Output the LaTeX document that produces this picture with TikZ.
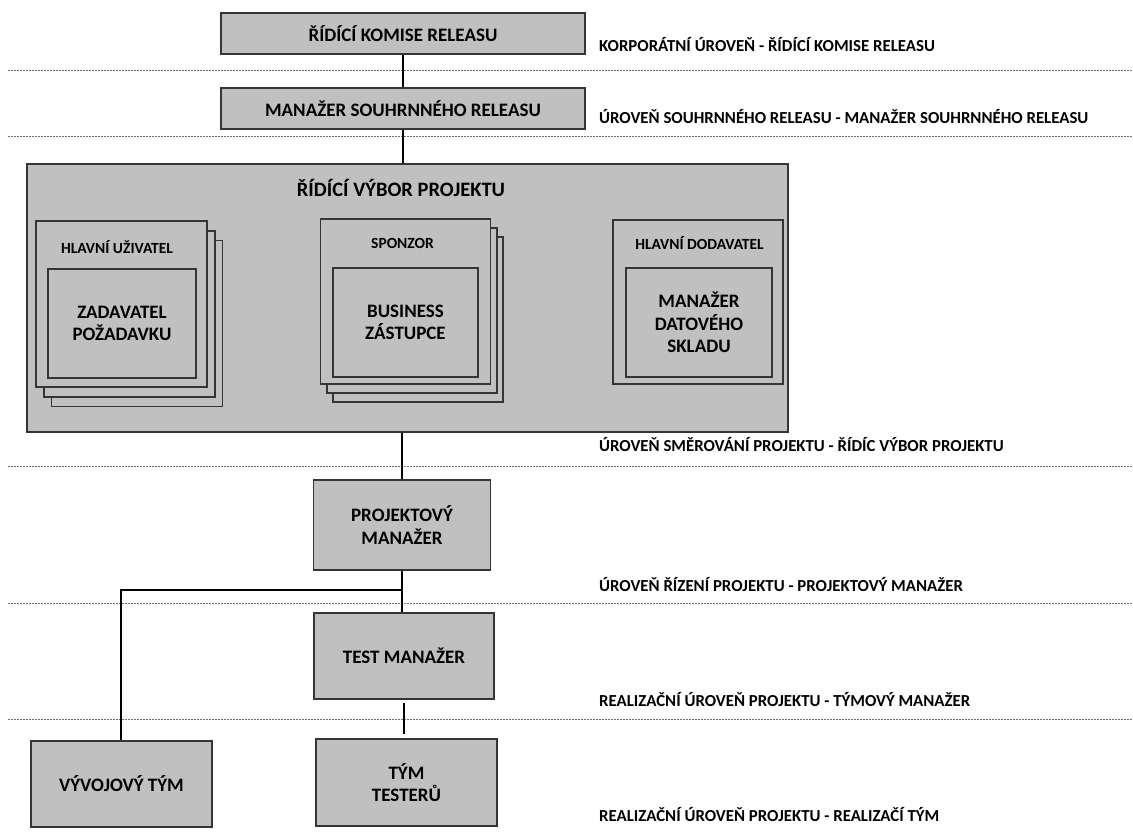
\documentclass[tikz,border=0pt]{standalone}
\usepackage{fontspec}
\setmainfont{Carlito}
\definecolor{boxfill}{HTML}{C0C0C0}
\definecolor{boxline}{HTML}{353535}
\definecolor{levelline}{HTML}{6E6E6E}
\newcommand{\boxfont}{\bfseries\fontsize{19}{22.5}\selectfont}
\newcommand{\titlefont}{\bfseries\fontsize{20.5}{24}\selectfont}
\newcommand{\rolefont}{\bfseries\fontsize{15.5}{18}\selectfont}
\newcommand{\levelfont}{\bfseries\fontsize{16.8}{20}\selectfont}
\begin{document}
\begin{tikzpicture}[x=1pt,y=-1pt,
  box/.style={draw=boxline, fill=boxfill, line width=1.4pt, rectangle,
    align=center, font=\boxfont, inner sep=0pt},
  rolebox/.style={draw=boxline, fill=boxfill, line width=1.2pt, rectangle,
    inner sep=0pt},
  rolelabel/.style={font=\rolefont, inner sep=0pt},
  levellabel/.style={font=\levelfont, anchor=west, inner sep=0pt},
  levelsep/.style={draw=levelline, line width=1pt, dash pattern=on 2pt off 1pt},
  link/.style={draw=black, line width=2pt}]

\useasboundingbox (0,0) rectangle (1133,834);

% level separators
\foreach \yy/\nm in {71/a,137/b,466/c,603/d,719/e}{
  \coordinate (sepL\nm) at (8,\yy);
  \coordinate (sepR\nm) at (1133,\yy);
  \draw[levelsep] (sepL\nm) -- (sepR\nm);
}

% release level
\node[box, minimum width=364, minimum height=41] (board) at (403,33.5) {ŘÍDÍCÍ KOMISE RELEASU};
\node[box, minimum width=364, minimum height=41] (relmgr) at (403,108.5) {MANAŽER SOUHRNNÉHO RELEASU};

% project board
\node[box, minimum width=761, minimum height=268] (steer) at (407.5,298) {};
\node[font=\titlefont, inner sep=0pt] (steertitle) at (401,188) {ŘÍDÍCÍ VÝBOR PROJEKTU};

% senior user (stacked)
\node[rolebox, minimum width=171, minimum height=166] (hu3) at (137,323.5) {};
\node[rolebox, minimum width=171, minimum height=166] (hu2) at (129.5,314) {};
\node[rolebox, minimum width=171, minimum height=166] (hu1) at (121.5,304) {};
\node[rolelabel] (hulabel) at (117,247) {HLAVNÍ UŽIVATEL};
\node[box, line width=1.2pt, minimum width=148, minimum height=109] (requester) at (122,323.5) {ZADAVATEL\\POŽADAVKU};

% sponsor (stacked)
\node[rolebox, minimum width=170, minimum height=165] (sp3) at (418,319.5) {};
\node[rolebox, minimum width=170, minimum height=165] (sp2) at (412,310.5) {};
\node[rolebox, minimum width=170, minimum height=165] (sp1) at (405.5,301.5) {};
\node[rolelabel] (splabel) at (402.5,243) {SPONZOR};
\node[box, line width=1.2pt, minimum width=145, minimum height=109] (business) at (405.5,322.5) {BUSINESS\\ZÁSTUPCE};

% senior supplier
\node[rolebox, minimum width=170, minimum height=164] (hd) at (698,302) {};
\node[rolelabel] (hdlabel) at (699.5,243) {HLAVNÍ DODAVATEL};
\node[box, line width=1.2pt, minimum width=146, minimum height=109] (dwh) at (699,322.5) {MANAŽER\\DATOVÉHO\\SKLADU};

% project management and delivery
\node[box, minimum width=177, minimum height=90] (pm) at (402,525) {PROJEKTOVÝ\\MANAŽER};
\node[box, minimum width=180, minimum height=86] (testmgr) at (404,656) {TEST MANAŽER};
\node[box, minimum width=181, minimum height=87] (testers) at (406.5,782.5) {TÝM\\TESTERŮ};
\node[box, minimum width=181, minimum height=86] (devteam) at (121.5,784) {VÝVOJOVÝ TÝM};

% connectors
\draw[link] (board.south) -- (relmgr.north);
\draw[link] (relmgr.south) -- (relmgr.south |- steer.north);
\draw[link] (pm.north |- steer.south) -- (pm.north);
\coordinate (fork) at (402,590);
\coordinate (devtop) at (121,590);
\draw[link] (pm.south) -- (fork) -- (fork |- testmgr.north);
\draw[link] (fork) -- (devtop) -- (devtop |- devteam.north);
\draw[link, shorten <=3pt, shorten >=4pt] (testmgr.south -| 404,0) -- (testers.north -| 404,0);

% level labels
\node[levellabel] (lv1) at (599,45) {KORPORÁTNÍ ÚROVEŇ - ŘÍDÍCÍ KOMISE RELEASU};
\node[levellabel] (lv2) at (599,117) {ÚROVEŇ SOUHRNNÉHO RELEASU - MANAŽER SOUHRNNÉHO RELEASU};
\node[levellabel] (lv3) at (599,445) {ÚROVEŇ SMĚROVÁNÍ PROJEKTU - ŘÍDÍC VÝBOR PROJEKTU};
\node[levellabel] (lv4) at (599,585) {ÚROVEŇ ŘÍZENÍ PROJEKTU - PROJEKTOVÝ MANAŽER};
\node[levellabel] (lv5) at (599,700) {REALIZAČNÍ ÚROVEŇ PROJEKTU - TÝMOVÝ MANAŽER};
\node[levellabel] (lv6) at (599,815) {REALIZAČNÍ ÚROVEŇ PROJEKTU - REALIZAČÍ TÝM};
\end{tikzpicture}
\end{document}
